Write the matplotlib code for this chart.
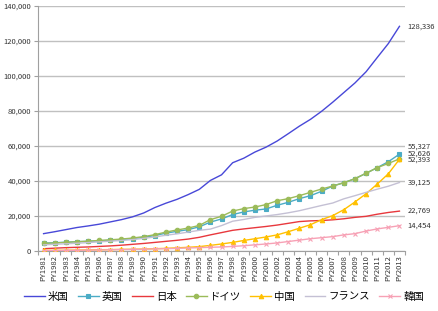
import matplotlib
matplotlib.use("Agg")
import matplotlib.pyplot as plt
import numpy as np

plt.rcParams['font.family'] = ['Noto Sans CJK JP', 'DejaVu Sans']

years = [f"PY{y}" for y in range(1981, 2014)]

us = [9900, 11000, 12200, 13400, 14300, 15300, 16600, 17900, 19500, 21700,
      24800, 27300, 29500, 32200, 35200, 40300, 43500, 50400, 53000, 56500,
      59300, 62800, 67000, 71300, 75200, 79800, 85000, 90500, 96000, 102400,
      110500, 118500, 128336]
uk = [4500, 4700, 5000, 5300, 5500, 5800, 6100, 6500, 7000, 7800,
      8800, 10200, 11200, 12200, 13800, 16500, 18300, 20800, 22300, 23300,
      24000, 26100, 27800, 29900, 31600, 34100, 37100, 39000, 41300, 44400,
      47600, 51000, 55327]
japan = [1300, 1600, 1900, 2100, 2300, 2600, 2900, 3300, 3800, 4300,
         4900, 5500, 6100, 6800, 7800, 9200, 10500, 11800, 12600, 13300,
         14000, 14800, 15800, 16800, 17200, 17400, 17800, 18400, 19200, 19800,
         21000, 22000, 22769]
germany = [4300, 4600, 4900, 5300, 5600, 6000, 6400, 6800, 7400, 8200,
           9300, 10800, 12000, 13100, 14600, 17900, 19800, 22800, 24200, 25100,
           26500, 28700, 29900, 31600, 33500, 35400, 37100, 39000, 41300, 44400,
           47600, 50000, 52626]
china = [300, 350, 400, 500, 600, 700, 800, 900, 1000, 1100,
         1300, 1500, 1800, 2100, 2500, 3200, 4000, 4900, 6000, 7000,
         8000, 9200, 11000, 13000, 15000, 17900, 20200, 23600, 28000, 32700,
         38200, 44100, 52393]
france = [3500, 3800, 4100, 4400, 4800, 5200, 5600, 6000, 6500, 7200,
          8000, 9000, 9800, 10800, 11800, 12500, 14500, 17000, 18000, 19200,
          20000, 20800, 21800, 23000, 24500, 26000, 27400, 29800, 31600, 33500,
          35300, 37000, 39125]
korea = [200, 250, 300, 400, 500, 600, 700, 800, 900, 1000,
         1200, 1300, 1500, 1700, 1900, 2100, 2300, 2600, 3000, 3500,
         4000, 4600, 5400, 6200, 7000, 7600, 8200, 9200, 9900, 11400,
         12600, 13500, 14454]

series = [
    ("米国", us, '#4848D8', None),
    ("英国", uk, '#4BACC6', 's'),
    ("日本", japan, '#E8383D', None),
    ("ドイツ", germany, '#9BBB59', 'o'),
    ("中国", china, '#FFC000', '^'),
    ("フランス", france, '#C4C0D4', None),
    ("韓国", korea, '#F7A1B5', 'x'),
]

fig = plt.figure(figsize=(4.39, 3.11), dpi=100)
ax = fig.add_axes([0.0866, 0.193, 0.836, 0.788])

x = np.arange(len(years))
for name, vals, col, mk in series:
    ax.plot(x, vals, color=col, lw=1.0, marker=mk, markersize=3.2,
            markeredgewidth=0.8, label=name, zorder=3)

ax.set_ylim(0, 140000)
ax.set_xlim(-0.5, len(years) - 0.5)
ax.set_yticks(np.arange(0, 140001, 20000))
ax.set_yticklabels([f"{v:,}" for v in range(0, 140001, 20000)], fontsize=5.5, color='#333333')
ax.set_xticks(x)
ax.set_xticklabels(years, rotation=90, fontsize=5.5, color='#333333')
ax.set_xticks(np.arange(-0.5, len(years), 1), minor=True)
ax.tick_params(axis='x', which='major', length=0, pad=3)
ax.tick_params(axis='x', which='minor', length=3, color='#A0A0A0', width=0.8)
ax.tick_params(axis='y', length=3, color='#A0A0A0', width=0.8, pad=2)
ax.grid(axis='y', color='#C0C0C0', lw=1.0, zorder=0)
ax.set_axisbelow(True)
for s in ['top', 'right']:
    ax.spines[s].set_visible(False)
ax.spines['left'].set_color('#A0A0A0')
ax.spines['bottom'].set_color('#A0A0A0')
ax.spines['left'].set_linewidth(0.8)
ax.spines['bottom'].set_linewidth(0.8)

# end value labels
last = len(years) - 1
offsets = {"米国": 0, "英国": 5.4, "ドイツ": 3.6, "中国": -0.3, "フランス": 0, "日本": 0, "韓国": 0}
for name, vals, col, mk in series:
    ax.annotate(f"{vals[-1]:,}", xy=(last, vals[-1]), xytext=(6, offsets[name]),
                textcoords='offset points', fontsize=5.5, va='center', ha='left',
                color='#333333', annotation_clip=False)

leg = fig.legend(loc='lower center', bbox_to_anchor=(0.51, 0.0), ncol=7, frameon=False,
                 fontsize=7.5, handlelength=2.0, handletextpad=0.3, columnspacing=0.9)

fig.savefig("out.png", dpi=100)
